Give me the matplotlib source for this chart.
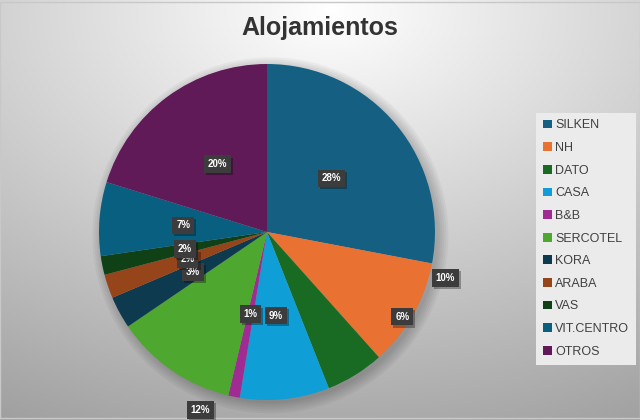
import numpy as np
import matplotlib
matplotlib.use("Agg")
import matplotlib.pyplot as plt
from matplotlib.patches import Circle
import matplotlib.patheffects as pe

# datos (porcentajes)
hoteles = ["SILKEN", "NH", "DATO", "CASA", "B&B", "SERCOTEL", "KORA",
           "ARABA", "VAS", "VIT.CENTRO", "OTROS"]
valores = [28.0, 10.4, 5.6, 8.6, 1.1, 11.8, 3.1, 2.3, 1.8, 7.1, 20.2]
colores = ["#156082", "#E97132", "#196B24", "#0F9ED5", "#A02B93", "#4EA72E",
           "#0D3A4E", "#96441A", "#0F4016", "#095F80", "#601A58"]

# etiquetas movidas a mano (radio, angulo en grados)
etiqueta_movida = {"NH": (1.095, -14.5), "DATO": (0.95, -32.0), "SERCOTEL": (1.13, -110.6)}

fig = plt.figure(figsize=(6.4, 4.2), dpi=100)

# fondo con degradado radial
bg = fig.add_axes([0, 0, 1, 1])
yy, xx = np.mgrid[0:420, 0:640]
d = np.sqrt(((xx - 330) / 640.0) ** 2 + ((yy - 10) / 420.0) ** 2)
g = np.clip(1.0 - 0.34 * d, 0, 1)
bg.imshow(np.dstack([g, g, g]), aspect="auto", extent=[0, 1, 0, 1], origin="upper")
bg.plot([0, 1, 1, 0, 0], [0.005, 0.005, 0.996, 0.996, 0.005], color="#c8c8c8", lw=1)
bg.set_xlim(0, 1)
bg.set_ylim(0, 1)
bg.axis("off")

ax = fig.add_axes([(267 - 168 * 1.2) / 640, (188 - 168 * 1.2) / 420, 2 * 168 * 1.2 / 640, 2 * 168 * 1.2 / 420])
# sombra suave
for i in range(6):
    ax.add_patch(Circle((0.02, -0.02), 1.0 + 0.012 * i, color="black", alpha=0.035, lw=0))
wedges, _ = ax.pie(valores, colors=colores, startangle=90, counterclock=False,
                   wedgeprops=dict(linewidth=0))
ax.set_xlim(-1.2, 1.2)
ax.set_ylim(-1.2, 1.2)
ax.set_aspect("equal")
ax.axis("off")

total = sum(valores)
for w, nombre, v in zip(wedges, hoteles, valores):
    if nombre in etiqueta_movida:
        r, ang = etiqueta_movida[nombre]
    else:
        r, ang = 0.5, (w.theta1 + w.theta2) / 2
    x = r * np.cos(np.radians(ang))
    y = r * np.sin(np.radians(ang))
    t = ax.text(x, y, "{:.0f}%".format(v / total * 100), ha="center", va="center",
                fontsize=7, fontweight="bold", family="Liberation Sans", color="white",
                bbox=dict(boxstyle="square,pad=0.4", fc="#3c3c3c", ec="none"))
    t.get_bbox_patch().set_path_effects(
        [pe.SimplePatchShadow(offset=(1.5, -1.5), shadow_rgbFace="black", alpha=0.3), pe.Normal()])

fig.text(320 / 640, 1 - 28 / 420, "Alojamientos", ha="center", va="center",
         fontsize=18, fontweight="bold", family="Liberation Sans", color="#333333")

leg = fig.legend(wedges, hoteles, loc="center", bbox_to_anchor=(586 / 640, 1 - 238.5 / 420),
                 frameon=True, fancybox=False, handlelength=0.7, handleheight=0.7,
                 handletextpad=0.3, labelspacing=0.85, borderpad=0.55, borderaxespad=0,
                 prop=dict(family="Liberation Sans", size=9))
leg.get_frame().set_facecolor("#ebebeb")
leg.get_frame().set_edgecolor("none")
leg.get_frame().set_alpha(1)
for t in leg.get_texts():
    t.set_color("#404040")

fig.savefig("out.png", dpi=100)
